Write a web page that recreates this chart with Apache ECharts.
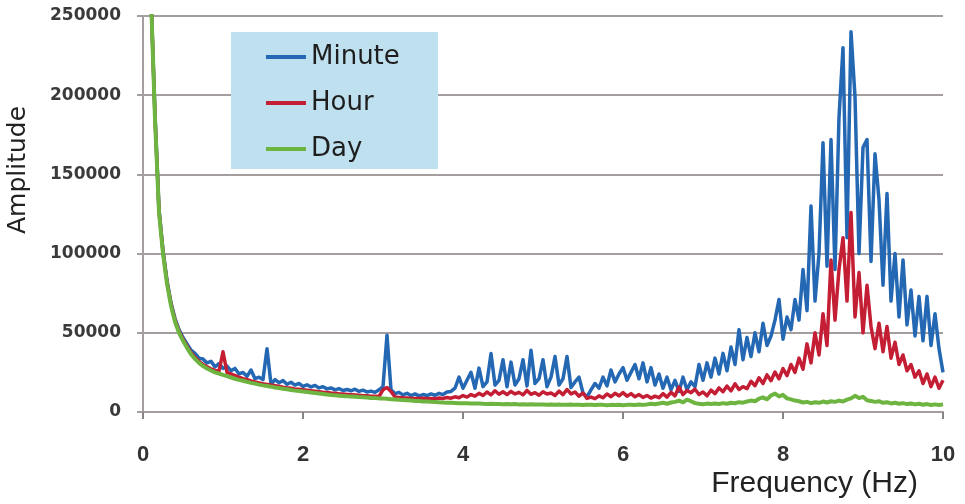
<!DOCTYPE html>
<html>
<head>
<meta charset="utf-8">
<script src="https://cdn.jsdelivr.net/npm/echarts@6/dist/echarts.min.js"></script>
<style>
  html, body { margin: 0; padding: 0; background: #ffffff; }
  #chart { width: 965px; height: 504px; }
</style>
</head>
<body>
<div id="chart"></div>
<script>
// Frequency grid of the spectrum (Hz)
const freqHz = [
  0.1,0.15,0.2,0.25,0.3,0.35,0.4,0.45,0.5,0.55,
  0.6,0.65,0.7,0.75,0.8,0.85,0.9,0.95,1,1.05,
  1.1,1.15,1.2,1.25,1.3,1.35,1.4,1.45,1.5,1.55,
  1.6,1.65,1.7,1.75,1.8,1.85,1.9,1.95,2,2.05,
  2.1,2.15,2.2,2.25,2.3,2.35,2.4,2.45,2.5,2.55,
  2.6,2.65,2.7,2.75,2.8,2.85,2.9,2.95,3,3.05,
  3.1,3.15,3.2,3.25,3.3,3.35,3.4,3.45,3.5,3.55,
  3.6,3.65,3.7,3.75,3.8,3.85,3.9,3.95,4,4.05,
  4.1,4.15,4.2,4.25,4.3,4.35,4.4,4.45,4.5,4.55,
  4.6,4.65,4.7,4.75,4.8,4.85,4.9,4.95,5,5.05,
  5.1,5.15,5.2,5.25,5.3,5.35,5.4,5.45,5.5,5.55,
  5.6,5.65,5.7,5.75,5.8,5.85,5.9,5.95,6,6.05,
  6.1,6.15,6.2,6.25,6.3,6.35,6.4,6.45,6.5,6.55,
  6.6,6.65,6.7,6.75,6.8,6.85,6.9,6.95,7,7.05,
  7.1,7.15,7.2,7.25,7.3,7.35,7.4,7.45,7.5,7.55,
  7.6,7.65,7.7,7.75,7.8,7.85,7.9,7.95,8,8.05,
  8.1,8.15,8.2,8.25,8.3,8.35,8.4,8.45,8.5,8.55,
  8.6,8.65,8.7,8.75,8.8,8.85,8.9,8.95,9,9.05,
  9.1,9.15,9.2,9.25,9.3,9.35,9.4,9.45,9.5,9.55,
  9.6,9.65,9.7,9.75,9.8,9.85,9.9,9.95,10
];

// Amplitude, sampled every minute
const minuteAmp = [
  262000,188000,128000,102000,83000,69000,59000,52000,47000,43000,
  39000,37000,34000,33500,31000,32000,28500,30500,27500,29000,
  26000,27500,24000,25000,22500,26500,21000,22000,20500,40000,
  17500,20500,18500,19800,17500,18800,17000,18000,16200,17200,
  15800,16800,15200,16000,14600,15200,14000,14800,13600,14200,
  13400,14400,13000,13800,12600,13200,12400,14000,16000,48500,
  14000,11600,12400,10800,11800,10400,11400,10200,11000,10400,
  11400,10600,11800,11000,12600,13000,15000,22000,15000,20000,
  25000,15000,27700,16000,19000,37000,17000,20000,33000,16000,
  31500,17000,21000,33000,16500,39000,18000,21000,33000,16000,
  22000,35000,17000,21000,35000,15500,19000,22000,12000,9500,
  14000,18000,15000,22000,16500,26500,19000,24000,28000,20000,
  25000,30000,21000,31000,19000,28000,17000,24000,15000,22000,
  14000,20000,13000,22000,14000,19000,16000,30000,20000,31000,
  22000,34000,24000,37000,26000,41000,30000,52000,33000,47000,
  35000,50000,38000,56000,42000,48000,58000,71000,46000,60000,
  52000,71000,58000,90000,64000,130000,70000,100000,170000,92000,
  172000,90000,186000,230000,110000,240000,199000,100000,167000,172000,
  95000,163000,134000,80000,138000,70000,100000,60000,96000,55000,
  77000,48000,73000,45000,73000,42000,62000,40000,25000
];

// Amplitude, sampled every hour
const hourAmp = [
  262000,186000,127000,101000,82000,68000,58000,51000,46000,41500,
  37500,34500,32000,30000,28500,27200,26200,25800,38000,25000,
  24000,23000,22000,21000,20500,19600,19000,18400,17800,17400,
  17000,16600,16200,15700,15300,15000,14600,14300,14000,13700,
  13400,13100,12800,12500,12300,12000,11800,11500,11300,11100,
  10900,10700,10500,10300,10200,10000,9900,9800,14000,15500,
  13000,9400,9200,9000,8900,8700,8600,8500,8700,8400,
  8600,8300,8800,8500,9200,8700,9600,9000,10400,9400,
  11000,10000,11800,10400,12600,10800,13400,11200,12800,11000,
  13000,11400,12400,10800,13600,11200,12200,10600,12800,11400,
  12000,10400,13200,11000,14200,11400,12600,10000,12000,8600,
  9400,8400,10200,9000,11400,9600,11800,10200,12200,10000,
  11600,9600,11000,9200,10400,8800,10000,9000,11600,9400,
  12400,10200,15800,11000,13600,12200,14400,11000,12600,10200,
  13800,11600,15200,12800,16400,13400,17800,14200,16000,14800,
  19400,16600,21600,18000,23400,19800,25200,21000,27400,23000,
  30000,25000,34000,27000,43000,31000,50000,36000,62000,42000,
  96000,58000,90000,110000,70000,126000,60000,88000,50000,80000,
  54000,40000,56000,38000,54000,34000,44000,30000,36000,26000,
  30000,22000,26000,18000,24000,16000,22000,15000,20000
];

// Amplitude, sampled every day
const dayAmp = [
  262000,185000,126000,100000,81000,67000,57000,50000,45000,40500,
  36500,33500,31000,29000,27500,26200,25000,24200,23400,22600,
  21800,21000,20300,19700,19000,18400,17900,17300,16800,16400,
  16000,15500,15100,14700,14300,13900,13500,13200,12900,12600,
  12300,12000,11700,11400,11100,10800,10500,10300,10100,9900,
  9800,9600,9400,9300,9100,8900,8800,8600,8500,8300,
  8100,7900,7700,7500,7400,7200,7000,6900,6700,6600,
  6400,6300,6200,6000,5900,5800,5700,5600,5500,5500,
  5400,5300,5400,5200,5100,5200,5000,5100,4900,5000,
  4900,5000,4800,4900,4700,4900,4800,4700,4800,4600,
  4700,4600,4800,4500,4600,4700,4500,4600,4400,4600,
  4500,4400,4600,4500,4300,4500,4400,4600,4300,4500,
  4600,4400,4700,4500,4800,5200,4900,5400,5800,5200,
  6000,6400,7200,6100,7800,6800,5600,5200,4900,5300,
  5000,5400,5100,5600,5200,5800,5500,6200,5900,6600,
  7200,6800,8400,9200,8000,10400,11600,9800,10800,8600,
  8000,7200,6800,6000,6400,5600,6200,5800,6600,6000,
  6800,6400,7200,6600,7800,8600,10200,8800,9600,7400,
  7000,6400,6800,5800,6200,5400,5800,5200,5600,5000,
  5400,4800,5200,4600,5000,4400,4800,4400,4800
];

const seriesNames = ['Minute', 'Hour', 'Day'];
const seriesColors = ['#2467b3', '#c41e35', '#6db540'];
const seriesValues = [minuteAmp, hourAmp, dayAmp];
const seriesWidths = [3.5, 3.5, 4];

const xAxisTitle = 'Frequency (Hz)';
const yAxisTitle = 'Amplitude';

const axisGray = '#a59e9e';

const chart = echarts.init(document.getElementById('chart'), null, { renderer: 'canvas' });

const option = {
  animation: false,
  backgroundColor: '#ffffff',
  grid: { left: 143, right: 22, top: 16, bottom: 92, containLabel: false, outerBoundsMode: 'none' },
  graphic: [
    {
      // legend panel
      type: 'rect',
      z: 3,
      shape: { x: 231, y: 32, width: 207, height: 137 },
      style: { fill: '#bfe0ee' }
    },
    {
      // horizontal axis title
      type: 'text',
      z: 5,
      x: 918,
      y: 484,
      style: {
        text: xAxisTitle,
        fill: '#222222',
        font: '30px "Liberation Sans", Arial, sans-serif',
        textAlign: 'right',
        textVerticalAlign: 'middle'
      }
    },
    {
      // vertical axis title
      type: 'text',
      z: 5,
      x: 18,
      y: 170,
      rotation: Math.PI / 2,
      style: {
        text: yAxisTitle,
        fill: '#222222',
        font: '25px "DejaVu Sans", sans-serif',
        textAlign: 'center',
        textVerticalAlign: 'middle'
      }
    }
  ],
  legend: {
    data: seriesNames,
    orient: 'vertical',
    left: 266,
    top: 43,
    padding: 0,
    z: 5,
    icon: 'rect',
    itemWidth: 40,
    itemHeight: 4,
    itemGap: 18,
    textStyle: { fontFamily: 'DejaVu Sans', fontSize: 26, color: '#1e1e1e', lineHeight: 28 }
  },
  xAxis: {
    type: 'value',
    min: 0,
    max: 10,
    interval: 2,
    axisLine: { show: true, onZero: false, lineStyle: { color: axisGray, width: 2 } },
    axisTick: { show: true, inside: false, length: 7, lineStyle: { color: '#8a8383', width: 2 } },
    splitLine: { show: false },
    axisLabel: { fontFamily: 'Liberation Sans', fontWeight: 'bold', fontSize: 22, color: '#333333', margin: 32 }
  },
  yAxis: {
    type: 'value',
    min: 0,
    max: 250000,
    interval: 50000,
    axisLine: { show: true, lineStyle: { color: axisGray, width: 2 } },
    axisTick: { show: true, length: 6, lineStyle: { color: axisGray, width: 2 } },
    splitLine: { show: true, lineStyle: { color: axisGray, width: 2 } },
    axisLabel: {
      fontFamily: 'DejaVu Sans', fontWeight: 'bold', fontSize: 17, color: '#3a3a3a', margin: 22,
      formatter: (v) => String(v)
    }
  },
  series: seriesNames.map((name, k) => ({
    name: name,
    type: 'line',
    showSymbol: false,
    symbol: 'none',
    clip: true,
    z: 2 + k,
    lineStyle: { color: seriesColors[k], width: seriesWidths[k], join: 'round' },
    itemStyle: { color: seriesColors[k] },
    data: freqHz.map((f, i) => [f, seriesValues[k][i]])
  }))
};

chart.setOption(option);
</script>
</body>
</html>
